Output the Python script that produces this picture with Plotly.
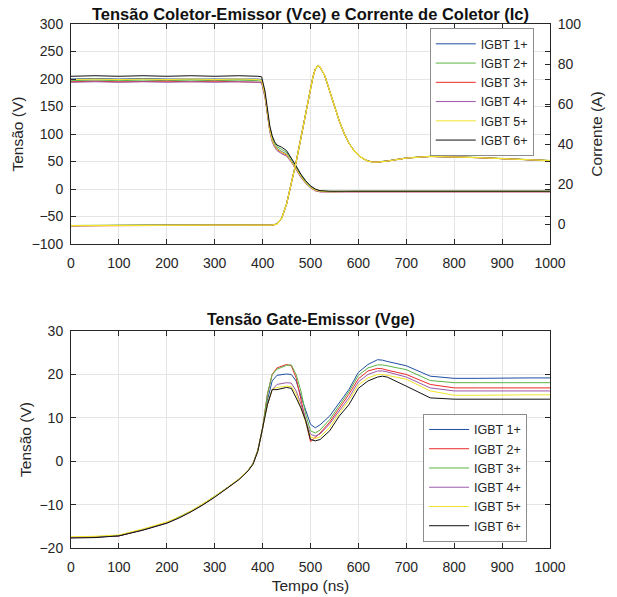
import plotly.graph_objects as go

# ---------------- data ----------------
names = ["IGBT 1+", "IGBT 2+", "IGBT 3+", "IGBT 4+", "IGBT 5+", "IGBT 6+"]
colors_top = ["#1f4fa0", "#5ab544", "#ec2a2a", "#9a5aa8", "#f2e42a", "#111111"]
colors_bot = ["#1f4fa0", "#ec2a2a", "#5ab544", "#9a5aa8", "#f2e42a", "#111111"]

# Vce (V) - left axis of top plot
t_vce = [0, 50, 100, 150, 200, 250, 300, 350, 390, 398, 405, 410, 415, 420, 425, 430,
         440, 450, 460, 470, 480, 490, 500, 510, 520, 540, 600, 700, 800, 900, 1000]
vce1 = [200, 201, 200, 201, 200, 200, 201, 200, 200, 199, 172, 138, 108, 90, 80, 74,
        68, 64, 52, 38, 24, 12, 4, -2, -4, -5, -4, -4, -4, -4, -4]
vce2 = [197, 198, 197, 198, 197, 198, 197, 198, 197, 196, 170, 140, 112, 95, 84, 77,
        72, 67, 55, 40, 26, 14, 5, -1, -3, -4, -4, -3, -4, -4, -4]
vce3 = [195, 196, 195, 196, 196, 195, 196, 195, 195, 194, 168, 135, 106, 88, 78, 72,
        66, 62, 50, 36, 22, 11, 3, -3, -5, -5, -5, -4, -5, -4, -5]
vce4 = [194, 195, 194, 195, 194, 195, 194, 195, 194, 193, 166, 133, 104, 86, 76, 70,
        64, 60, 49, 35, 21, 10, 2, -3, -5, -5, -5, -5, -5, -5, -5]
vce5 = [199, 200, 199, 200, 199, 200, 199, 200, 199, 198, 170, 136, 107, 89, 79, 73,
        67, 63, 51, 37, 23, 11, 3, -2, -4, -5, -4, -4, -4, -4, -4]
vce6 = [205, 206, 205, 206, 205, 206, 205, 206, 205, 204, 178, 145, 115, 97, 86, 80,
        76, 70, 57, 42, 27, 15, 6, 0, -3, -4, -4, -4, -4, -4, -4]

# Ic (A) - right axis of top plot
t_ic = [0, 100, 200, 300, 400, 420, 430, 440, 450, 460, 470, 480, 490, 500, 505, 510,
        515, 520, 530, 540, 550, 560, 570, 580, 590, 600, 610, 620, 630, 640, 660, 680,
        700, 750, 800, 850, 900, 950, 1000]
ic1 = [-0.8, -0.6, -0.5, -0.5, -0.5, -0.5, 0.0, 3.0, 10, 20, 31, 43, 56, 68, 73.5, 77.5,
       79, 78.5, 74, 66.5, 58.5, 51.5, 45.5, 40.5, 37, 34.5, 32.6, 31.5, 31.0, 31.0, 31.5, 32.3,
       33.0, 33.8, 33.6, 33.2, 32.7, 32.2, 31.7]
ic2 = [-0.7, -0.5, -0.4, -0.5, -0.4, -0.4, 0.1, 3.1, 10.1, 20.1, 31.1, 43.1, 56.1, 68.1, 73.6, 77.6,
       79.1, 78.6, 74.1, 66.6, 58.6, 51.6, 45.6, 40.6, 37.1, 34.6, 32.7, 31.6, 31.1, 31.1, 31.6, 32.4,
       33.1, 33.9, 33.7, 33.3, 32.8, 32.3, 31.8]
ic3 = [-0.9, -0.7, -0.6, -0.6, -0.6, -0.6, 0.0, 3.0, 10, 20, 31, 43, 56, 68, 73.5, 77.5,
       79, 78.5, 74, 66.5, 58.5, 51.5, 45.5, 40.5, 37, 34.5, 32.6, 31.5, 31.0, 31.0, 31.5, 32.3,
       33.0, 33.8, 33.6, 33.2, 32.7, 32.2, 31.7]
ic4 = [-0.8, -0.6, -0.5, -0.6, -0.5, -0.5, 0.0, 3.0, 10, 20, 31, 43, 56, 68, 73.5, 77.5,
       79, 78.5, 74, 66.5, 58.5, 51.5, 45.5, 40.5, 37, 34.5, 32.6, 31.5, 31.0, 31.0, 31.5, 32.3,
       33.0, 33.8, 33.6, 33.2, 32.7, 32.2, 31.7]
ic5 = [-0.8, -0.6, -0.5, -0.5, -0.5, -0.5, 0.0, 3.0, 10, 20, 31, 43, 56, 68, 73.5, 77.5,
       79, 78.5, 74, 66.5, 58.5, 51.5, 45.5, 40.5, 37, 34.5, 32.6, 31.5, 31.0, 31.0, 31.5, 32.3,
       33.0, 33.8, 33.6, 33.2, 32.7, 32.2, 31.7]
ic6 = [-0.8, -0.6, -0.5, -0.5, -0.5, -0.5, 0.0, 3.0, 10, 20, 31, 43, 56, 68, 73.5, 77.5,
       79, 78.5, 74, 66.5, 58.5, 51.5, 45.5, 40.5, 37, 34.5, 32.6, 31.5, 31.0, 31.0, 31.5, 32.3,
       33.0, 33.8, 33.6, 33.2, 32.7, 32.2, 31.7]

# Vge (V) - bottom plot
t_vge = [0, 50, 100, 150, 200, 225, 250, 275, 300, 325, 350, 370, 380, 390, 400,
         410, 420, 430, 450, 460, 470, 480, 490, 500, 510, 520, 540, 560, 580, 600,
         620, 640, 650, 660, 700, 750, 800, 850, 900, 950, 1000]
vge1 = [-17.6, -17.5, -17.2, -15.8, -14.2, -13.0, -11.6, -10.0, -8.2, -6.3, -4.2, -2.1, -0.6, 2.4, 7.5,
        14.0, 18.5, 19.8, 20.1, 20.0, 18.5, 15.0, 11.6, 8.5, 7.7, 8.4, 10.4, 13.5, 16.5, 20.5,
        22.3, 23.4, 23.3, 23.0, 22.0, 19.6, 19.1, 19.1, 19.2, 19.2, 19.2]
vge2 = [-17.6, -17.4, -17.2, -15.8, -14.1, -13.0, -11.6, -10.0, -8.2, -6.3, -4.2, -2.1, -0.5, 2.5, 7.6,
        15.4, 20.0, 21.5, 22.3, 22.0, 19.2, 14.6, 9.3, 4.5, 5.4, 6.5, 9.0, 12.2, 15.4, 19.0,
        20.8, 21.4, 21.3, 21.0, 20.0, 17.7, 16.9, 16.9, 16.9, 16.9, 16.9]
vge3 = [-17.6, -17.5, -17.1, -15.8, -14.2, -12.9, -11.5, -9.9, -8.1, -6.2, -4.2, -2.0, -0.5, 2.5, 7.6,
        15.4, 20.0, 21.2, 22.1, 22.2, 20.0, 16.2, 10.8, 7.0, 6.5, 7.2, 9.6, 12.8, 16.0, 19.8,
        21.5, 22.2, 22.2, 22.0, 21.1, 18.6, 18.1, 18.1, 18.1, 18.1, 18.1]
vge4 = [-17.6, -17.5, -17.2, -15.8, -14.2, -13.0, -11.6, -10.0, -8.2, -6.3, -4.2, -2.1, -0.6, 2.4, 7.5,
        13.0, 16.5, 17.7, 18.1, 18.0, 16.2, 13.2, 9.5, 6.2, 5.8, 6.3, 8.6, 11.6, 14.6, 18.3,
        20.0, 20.8, 20.8, 20.6, 19.4, 16.9, 16.2, 16.2, 16.2, 16.2, 16.2]
vge5 = [-17.4, -17.3, -17.0, -15.6, -14.0, -12.9, -11.5, -9.9, -8.1, -6.2, -4.1, -2.1, -0.6, 2.4, 7.5,
        13.0, 16.5, 17.0, 17.3, 17.2, 15.5, 12.5, 9.0, 5.6, 5.2, 5.6, 7.8, 11.0, 14.0, 17.6,
        19.2, 20.0, 20.0, 19.8, 18.9, 16.2, 15.2, 15.2, 15.3, 15.3, 15.3]
vge6 = [-17.7, -17.6, -17.2, -15.9, -14.3, -13.1, -11.7, -10.1, -8.3, -6.4, -4.3, -2.2, -0.7, 2.3, 7.4,
        13.0, 16.5, 16.5, 17.0, 16.8, 14.6, 12.3, 9.3, 5.0, 4.7, 5.0, 7.0, 10.4, 13.0, 16.8,
        18.5, 19.4, 19.6, 19.4, 17.3, 14.6, 14.3, 14.3, 14.3, 14.3, 14.3]

vce_all = [vce1, vce2, vce3, vce4, vce5, vce6]
ic_all = [ic1, ic2, ic3, ic4, ic5, ic6]
vge_all = [vge1, vge2, vge3, vge4, vge5, vge6]

x_ticks = list(range(0, 1001, 100))

# ---------------- figure ----------------
FONT = "Liberation Sans, Arial, sans-serif"
AX = "#262626"
GRID = "#e5e5e5"

fig = go.Figure()

for i in range(6):
    fig.add_trace(go.Scatter(x=t_vce, y=vce_all[i], mode="lines", name=names[i],
                             line=dict(color=colors_top[i], width=1),
                             xaxis="x", yaxis="y", legend="legend"))
ic_order = [5, 0, 1, 2, 3, 4]
for i in ic_order:
    fig.add_trace(go.Scatter(x=t_ic, y=ic_all[i], mode="lines", name=names[i],
                             line=dict(color=colors_top[i], width=1.3 if i == 4 else 1),
                             xaxis="x", yaxis="y2", showlegend=False))
for i in range(6):
    fig.add_trace(go.Scatter(x=t_vge, y=vge_all[i], mode="lines", name=names[i],
                             line=dict(color=colors_bot[i], width=1),
                             xaxis="x2", yaxis="y3", legend="legend2"))

axis_common = dict(showline=True, linecolor=AX, linewidth=1, ticks="inside", ticklen=5,
                   tickcolor=AX, tickfont=dict(family=FONT, size=14, color=AX),
                   zeroline=False, automargin=True)
TITLE_FONT = dict(family=FONT, size=15.5, color=AX)

fig.update_layout(
    width=617, height=597,
    margin=dict(l=71, r=67, t=24, b=49, autoexpand=False),
    paper_bgcolor="white", plot_bgcolor="white",
    font=dict(family=FONT, color=AX),
    xaxis=dict(domain=[0, 1], range=[0, 1000], tickvals=x_ticks, anchor="y",
               showgrid=True, gridcolor=GRID, mirror="ticks", ticklabelstandoff=6,
               **axis_common),
    yaxis=dict(domain=[0.58, 1.0], range=[-100, 300], dtick=50, anchor="x",
               showgrid=True, gridcolor=GRID, mirror="ticks", ticklabelstandoff=4,
               title=dict(text="Tensão (V)", font=TITLE_FONT, standoff=4),
               **axis_common),
    yaxis2=dict(range=[-10, 100], dtick=20, overlaying="y", side="right", anchor="x",
                showgrid=False, ticklabelstandoff=4,
                title=dict(text="Corrente (A)", font=TITLE_FONT, standoff=10),
                **axis_common),
    xaxis2=dict(domain=[0, 1], range=[0, 1000], tickvals=x_ticks, anchor="y3",
                showgrid=True, gridcolor=GRID, mirror="ticks", ticklabelstandoff=6,
                title=dict(text="Tempo (ns)", font=TITLE_FONT, standoff=6),
                **axis_common),
    yaxis3=dict(domain=[0, 0.414], range=[-20, 30], dtick=10, anchor="x2",
                showgrid=True, gridcolor=GRID, mirror="ticks", ticklabelstandoff=4,
                title=dict(text="Tensão (V)", font=TITLE_FONT, standoff=4),
                **axis_common),
    legend=dict(x=0.749, y=0.992, xanchor="left", yanchor="top",
                bgcolor="white", bordercolor="#8c8c8c", borderwidth=1,
                font=dict(family=FONT, size=12.5, color=AX), itemwidth=40,
                tracegroupgap=0),
    legend2=dict(x=0.735, y=0.256, xanchor="left", yanchor="top",
                 bgcolor="white", bordercolor="#8c8c8c", borderwidth=1,
                 font=dict(family=FONT, size=12.5, color=AX), itemwidth=40,
                 tracegroupgap=0),
    annotations=[
        dict(text="<b>Tensão Coletor-Emissor (Vce) e Corrente de Coletor (Ic)</b>",
             x=0.5, y=1.02, xref="paper", yref="paper", xanchor="center", yanchor="middle",
             showarrow=False, font=dict(family=FONT, size=16.5, color="#111111")),
        dict(text="<b>Tensão Gate-Emissor (Vge)</b>",
             x=0.5, y=0.436, xref="paper", yref="paper", xanchor="center", yanchor="middle",
             showarrow=False, font=dict(family=FONT, size=16, color="#111111")),
    ],
)

fig.write_html("out.html")
